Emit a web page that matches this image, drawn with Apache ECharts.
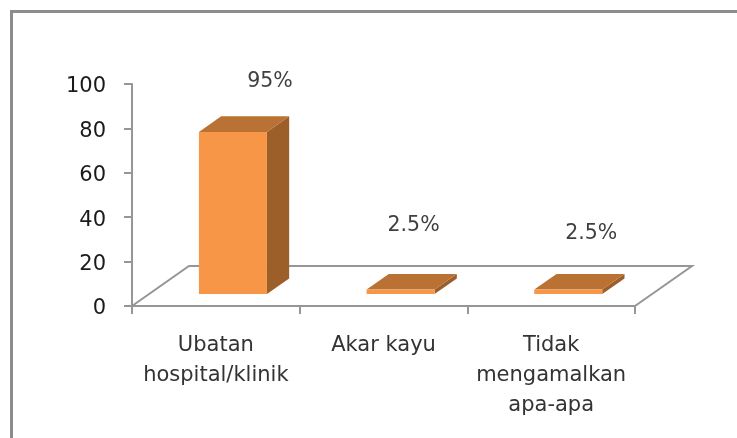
<!DOCTYPE html>
<html>
<head>
<meta charset="utf-8">
<style>html,body{margin:0;padding:0;background:#fff}#c{width:737px;height:438px}</style>
<script src="https://cdn.jsdelivr.net/npm/echarts@6/dist/echarts.min.js"></script>
</head>
<body>
<div id="c"></div>
<script>
const categories = ['Ubatan\nhospital/klinik', 'Akar kayu', 'Tidak\nmengamalkan\napa-apa'];
const barHeights = [73, 2, 2];
const barLabels = ['95%', '2.5%', '2.5%'];
const yTicks = { min: 0, max: 100, interval: 20 };
const labelShift = [[37, -50], [13, -64], [23, -56]];

const FLOOR_DX = 57, FLOOR_DY = -40;
const BAR_INSET = 0.3, BAR_DEPTH = 0.39, BAR_WIDTH = 68;
const FONT = '"DejaVu Sans", sans-serif';
const LINE = '#969696';

const chart = echarts.init(document.getElementById('c'), null, { renderer: 'canvas' });

function renderFloor(params, api) {
  const r = params.coordSys;
  const x0 = r.x, x1 = r.x + r.width, y = r.y + r.height;
  return {
    type: 'polyline',
    silent: true,
    shape: { points: [[x0, y], [x0 + FLOOR_DX, y + FLOOR_DY], [x1 + FLOOR_DX, y + FLOOR_DY], [x1, y]] },
    style: { fill: null, stroke: LINE, lineWidth: 2 }
  };
}

function renderBar(params, api) {
  const i = api.value(0);
  const base = api.coord([i, 0]);
  const top = api.coord([i, api.value(1)]);
  const ox = FLOOR_DX * BAR_INSET, oy = FLOOR_DY * BAR_INSET;
  const dx = FLOOR_DX * BAR_DEPTH, dy = FLOOR_DY * BAR_DEPTH;
  const l = base[0] + ox - BAR_WIDTH / 2, r = l + BAR_WIDTH;
  const b = base[1] + oy, t = top[1] + oy;
  const shift = labelShift[i];
  return {
    type: 'group',
    children: [
      { type: 'polygon', shape: { points: [[r, t], [r + dx, t + dy], [r + dx, b + dy], [r, b]] }, style: { fill: '#9c5f2a' } },
      { type: 'polygon', shape: { points: [[l, t], [l + dx, t + dy], [r + dx, t + dy], [r, t]] }, style: { fill: '#b97233' } },
      { type: 'rect', shape: { x: l, y: t, width: BAR_WIDTH, height: b - t }, style: { fill: '#f79646' } },
      { type: 'text', style: {
          x: (l + r) / 2 + shift[0], y: t + shift[1],
          text: barLabels[i], fill: '#404040', font: '20.5px ' + FONT,
          align: 'center', verticalAlign: 'middle' } }
    ]
  };
}

chart.setOption({
  animation: false,
  backgroundColor: '#ffffff',
  grid: { left: 132, right: 102, top: 84, bottom: 132, containLabel: false },
  xAxis: {
    type: 'category',
    data: categories,
    boundaryGap: true,
    axisLine: { lineStyle: { color: LINE, width: 2 } },
    axisTick: { show: true, alignWithLabel: false, interval: 0, length: 8, lineStyle: { color: LINE, width: 2 } },
    axisLabel: { interval: 0, margin: 25, color: '#333333', fontFamily: FONT, fontSize: 21, lineHeight: 30 }
  },
  yAxis: {
    type: 'value',
    min: yTicks.min, max: yTicks.max, interval: yTicks.interval,
    splitLine: { show: false },
    axisLine: { show: true, lineStyle: { color: LINE, width: 2 } },
    axisTick: { show: true, length: 8, lineStyle: { color: LINE, width: 2 } },
    axisLabel: { margin: 26, color: '#1a1a1a', fontFamily: FONT, fontSize: 21, verticalAlign: 'top', lineHeight: 6 }
  },
  series: [
    { type: 'custom', renderItem: renderFloor, data: [0], silent: true, z: 1, clip: false },
    { type: 'custom', renderItem: renderBar, data: barHeights.map((v, i) => [i, v]), encode: { x: 0, y: 1 }, z: 2, clip: false }
  ],
  graphic: [{
    type: 'polyline',
    silent: true,
    shape: { points: [[11.5, 438], [11.5, 11.5], [737, 11.5]] },
    style: { fill: null, stroke: '#8c8c8c', lineWidth: 3 }
  }]
});
</script>
</body>
</html>
